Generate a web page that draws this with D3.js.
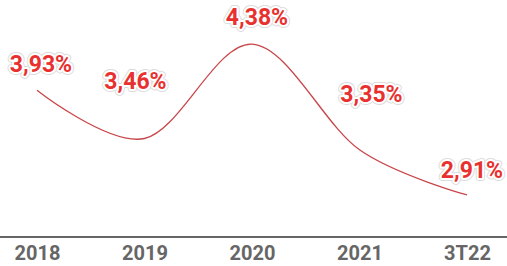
<!DOCTYPE html>
<html>
<head>
<meta charset="utf-8">
<script src="https://cdn.jsdelivr.net/npm/d3@7"></script>
<style>
  body { margin: 0; background: #fff; }
  svg { display: block; font-family: Roboto, "Noto Sans", sans-serif; }
</style>
</head>
<body>
<div id="chart"></div>
<script>
// data
const periods = ["2018", "2019", "2020", "2021", "3T22"];
const rates = [3.93, 3.46, 4.38, 3.35, 2.91];
const rateLabels = ["3,93%", "3,46%", "4,38%", "3,35%", "2,91%"];

// label nudges (dx, dy) from each point
const labelNudge = [[4, -18], [-9, -50], [5, -19], [12, -48], [5, -17]];

const width = 507;
const height = 266;
const axisY = 237;

const svg = d3.select("#chart")
  .append("svg")
  .attr("width", width)
  .attr("height", height);

const xScale = d3.scalePoint()
  .domain(periods)
  .range([37, 467]);

const yScale = d3.scaleLinear()
  .domain([2.5, 4.81])
  .range([axisY, 0]);

// x axis
const xAxis = svg.append("g")
  .attr("transform", "translate(0," + axisY + ")")
  .call(d3.axisBottom(xScale).tickSize(0).tickPadding(9));

xAxis.select(".domain").remove();
xAxis.append("line")
  .attr("x1", 0)
  .attr("x2", width)
  .attr("stroke", "#333")
  .attr("stroke-width", 1.5);

xAxis.selectAll(".tick text")
  .attr("fill", "#666")
  .attr("font-size", "20px")
  .attr("font-weight", "bold")
  .attr("font-family", "Roboto, sans-serif");

// line
const line = d3.line()
  .x((d, i) => xScale(periods[i]))
  .y(d => yScale(d))
  .curve(d3.curveCardinal.tension(0));

svg.append("path")
  .datum(rates)
  .attr("fill", "none")
  .attr("stroke", "#c8464a")
  .attr("stroke-width", 1.3)
  .attr("d", line);

// value labels, with a halo
const labels = svg.append("g")
  .attr("font-size", "23px")
  .attr("font-weight", "bold")
  .attr("text-anchor", "middle");

labels.selectAll("text.outer")
  .data(rates)
  .enter()
  .append("text")
  .attr("class", "outer")
  .attr("x", (d, i) => xScale(periods[i]) + labelNudge[i][0])
  .attr("y", (d, i) => yScale(d) + labelNudge[i][1])
  .attr("fill", "none")
  .attr("stroke", "#dcdcdc")
  .attr("stroke-width", 6)
  .attr("stroke-linejoin", "round")
  .text((d, i) => rateLabels[i]);

labels.selectAll("text.inner")
  .data(rates)
  .enter()
  .append("text")
  .attr("class", "inner")
  .attr("x", (d, i) => xScale(periods[i]) + labelNudge[i][0])
  .attr("y", (d, i) => yScale(d) + labelNudge[i][1])
  .attr("fill", "#e8312f")
  .attr("stroke", "#fff")
  .attr("stroke-width", 4)
  .attr("stroke-linejoin", "round")
  .attr("paint-order", "stroke")
  .text((d, i) => rateLabels[i]);
</script>
</body>
</html>
